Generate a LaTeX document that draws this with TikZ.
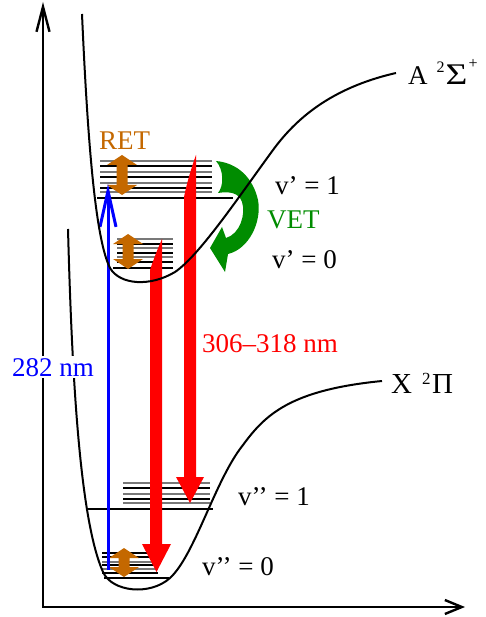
\documentclass[tikz,border=0pt]{standalone}
\usepackage{fontspec}
\usepackage{graphicx}
\usetikzlibrary{arrows.meta}
\newfontfamily\lserif{Liberation Serif}
\definecolor{retorange}{RGB}{196,104,0}
\definecolor{vetgreen}{RGB}{0,140,0}
\definecolor{lvlgray}{RGB}{120,120,120}
\newcommand{\retarrow}[3]{%
  \fill[retorange] (#1,#2) -- (#1+15,#2+10) -- (#1+5.5,#2+10) -- (#1+5.5,#3-10) -- (#1+15,#3-10)
    -- (#1,#3) -- (#1-15,#3-10) -- (#1-5.5,#3-10) -- (#1-5.5,#2+10) -- (#1-15,#2+10) -- cycle;}
\begin{document}
\begin{tikzpicture}[x=1pt,y=-1pt,
  lbl/.style={font=\lserif\fontsize{27}{30}\selectfont, inner sep=0pt, anchor=base west},
  curve/.style={line width=2pt, line join=round},
  lvl/.style={line width=1.5pt},
  axis/.style={line width=2.4pt}]
\useasboundingbox (0,0) rectangle (485,617);

% green VET arrow (below the potential curve)
\fill[vetgreen] (216,161) .. controls (238,163) and (253,178) .. (258,200)
  .. controls (262,222) and (249,249) .. (228,254) -- (225,272) -- (210,248) -- (222,227) -- (226,238)
  .. controls (240,234) and (246,214) .. (242,202)
  .. controls (239,193) and (230,191) .. (218,193)
  .. controls (224,186) and (224,170) .. cycle;

% rotational / vibrational levels
\foreach \y/\c in {161/lvlgray,166/black,172/lvlgray,177/black,183/lvlgray,188/black,192/lvlgray}
  \draw[lvl,\c] (100,\y) -- (212,\y);
\draw[lvl] (97,198) -- (233,198);
\foreach \y/\c in {239/lvlgray,244/black,248/lvlgray,253/black,257/lvlgray,262/black}
  \draw[lvl,\c] (117,\y) -- (173,\y);
\draw[lvl] (113,268) -- (173,268);
\foreach \y/\c in {483/lvlgray,488/black,494/lvlgray,499/black,503/lvlgray}
  \draw[lvl,\c] (123,\y) -- (210,\y);
\draw[lvl] (88,509) -- (213,509);
\foreach \y/\c in {553/black,557/black,562/lvlgray,565/black,569/lvlgray,573/black}
  \draw[lvl,\c] (102,\y) -- (158,\y);
\draw[lvl] (104,578) -- (169,578);

% red emission arrows
\fill[red] (162,239) -- (162,544) -- (171,544) -- (156.5,572) -- (142,544) -- (150,544) -- (150,270)
  .. controls (154,258) and (158,248) .. cycle;
\fill[red] (196,155) -- (196,477) -- (204,477) -- (190,503) -- (176,477) -- (184,477) -- (184,197)
  .. controls (187,182) and (192,166) .. cycle;

% RET arrows
\retarrow{122}{155}{195}
\retarrow{128}{234}{269}
\retarrow{124}{548}{577}

% blue excitation arrow
\draw[blue, line width=3pt, -{Straight Barb[length=36pt,width=16pt]}] (108,570) -- (108,184);

% potential curves
\draw[curve] (82,14) .. controls (88,150) and (96,240) .. (110,268)
  .. controls (120,285) and (150,287) .. (175,272)
  .. controls (200,255) and (240,195) .. (273,150)
  .. controls (295,120) and (330,88) .. (396,73);
\draw[curve] (68,229) .. controls (72,380) and (80,520) .. (103,572)
  .. controls (112,592) and (150,596) .. (170,578)
  .. controls (195,555) and (215,480) .. (243,445)
  .. controls (265,415) and (290,390) .. (382,381);

% axes
\draw[axis, {Straight Barb[length=25pt,width=13pt]}-{Straight Barb[length=17pt,width=14pt]}] (43,2) -- (43,607) -- (465,607);

% labels
\node[lbl] (Astate) at (408,85) {A\kern9pt\raisebox{12pt}{\fontsize{16}{16}\selectfont 2}\kern1pt\scalebox{1.25}[1]{\fontsize{30}{30}\selectfont Σ}\kern1pt\raisebox{16pt}{\fontsize{16}{16}\selectfont +}};
\node[lbl, font=\lserif\fontsize{29}{32}\selectfont] (Xstate) at (391,393) {X\kern10pt\raisebox{9pt}{\fontsize{17}{17}\selectfont 2}\kern1.5pt Π};
\node[lbl, text=retorange] (ret) at (99,150) {RET};
\node[lbl, text=vetgreen] (vet) at (267,229) {VET};
\node[lbl] (v1) at (275,195) {v’ = 1};
\node[lbl] (v0) at (272,268) {v’ = 0};
\node[lbl, text=red] (em) at (202,352) {306–318 nm};
\node[lbl, text=blue, fill=white, inner sep=2pt] (ex) at (10,376) {282 nm};
\node[lbl] (w1) at (238,505) {v’’ = 1};
\node[lbl] (w0) at (202,575) {v’’ = 0};
\end{tikzpicture}
\end{document}
